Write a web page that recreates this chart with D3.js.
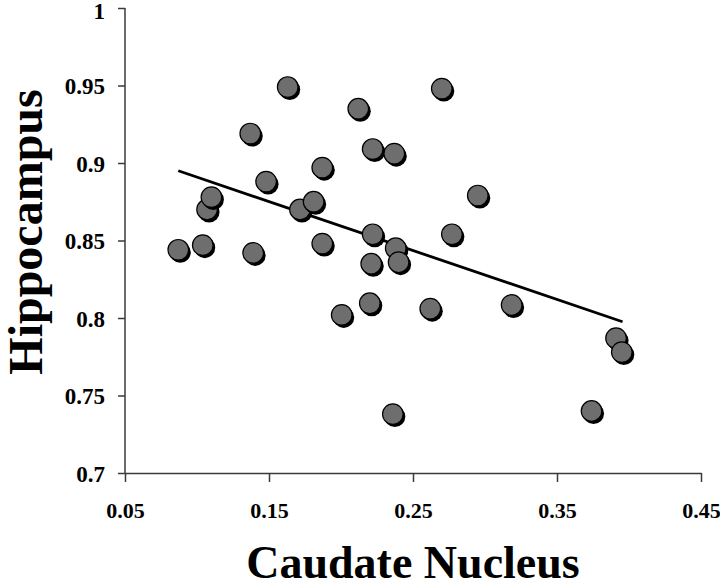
<!DOCTYPE html>
<html lang="en">
<head>
  <meta charset="utf-8">
  <title>Caudate Nucleus vs Hippocampus</title>
  <script src="https://d3js.org/d3.v7.min.js"></script>
  <style>
    body { margin: 0; background: #fff; }
    #chart text { font-family: "Liberation Serif", "Times New Roman", serif; font-weight: bold; fill: #000; }
    .axis path, .axis line { stroke: #3a3a3a; stroke-width: 1.5; }
  </style>
</head>
<body>
  <div id="chart"></div>

  <script>
    "use strict";

    // caudate (x) and hippocampus (y) values
    var caudate = [0.087, 0.104, 0.107, 0.110, 0.137, 0.139, 0.148, 0.163, 0.1715, 0.181,
                   0.187, 0.187, 0.2005, 0.212, 0.220, 0.221, 0.222, 0.222, 0.236, 0.237,
                   0.238, 0.240, 0.262, 0.270, 0.277, 0.295, 0.3185, 0.374, 0.391, 0.395];
    var hippocampus = [0.844, 0.847, 0.870, 0.878, 0.919, 0.842, 0.888, 0.949, 0.870, 0.875,
                       0.897, 0.848, 0.802, 0.935, 0.8095, 0.835, 0.854, 0.909, 0.738, 0.906,
                       0.845, 0.836, 0.806, 0.948, 0.854, 0.879, 0.8084, 0.740, 0.787, 0.778];

    // fitted line end points
    var trendX = [0.087, 0.3955];
    var trendY = [0.895, 0.7976];

    var xTicks = [0.05, 0.15, 0.25, 0.35, 0.45];
    var yTicks = [0.7, 0.75, 0.8, 0.85, 0.9, 0.95, 1];

    var largura = 720, altura = 587;
    var margin = {top: 8, right: 19, bottom: 114, left: 125};

    var svg = d3.select('#chart').append('svg')
        .attr('width', largura)
        .attr('height', altura);

    var x = d3.scaleLinear().domain([0.05, 0.45]).range([margin.left, largura - margin.right]);
    var y = d3.scaleLinear().domain([0.7, 1]).range([altura - margin.bottom, margin.top]);

    // eixo x
    var gx = svg.append('g')
        .attr('class', 'axis')
        .attr('transform', 'translate(0,' + y(0.7) + ')')
        .call(d3.axisBottom(x).tickValues(xTicks).tickSize(9).tickSizeOuter(0)
          .tickFormat(d => d3.format('.2f')(d)));
    gx.selectAll('text').attr('font-size', 22).attr('dy', '1.5em');

    // eixo y
    var gy = svg.append('g')
        .attr('class', 'axis')
        .attr('transform', 'translate(' + x(0.05) + ',0)')
        .call(d3.axisLeft(y).tickValues(yTicks).tickSize(7).tickSizeOuter(0)
          .tickFormat(d => d === 1 ? '1' : d3.format('.2~f')(d)));
    gy.selectAll('text').attr('font-size', 23).attr('x', -20)
        .attr('dy', d => d === 1 ? '0.45em' : '0.36em');
    gy.select('.domain').attr('d', 'M0,' + y(0.7) + 'V' + y(1));

    // linha de tendencia
    var linha = d3.line().x(d => x(d[0])).y(d => y(d[1]));
    svg.append('path')
        .datum(d3.zip(trendX, trendY))
        .attr('d', linha)
        .attr('fill', 'none')
        .attr('stroke', '#000')
        .attr('stroke-width', 2.8);

    // pontos com sombra
    var dados = d3.zip(caudate, hippocampus);
    var pts = svg.selectAll('g.pt')
        .data(dados)
        .enter().append('g')
        .attr('class', 'pt')
        .attr('transform', d => 'translate(' + x(d[0]) + ',' + y(d[1]) + ')');
    pts.append('circle')
        .attr('cx', 2).attr('cy', 2.5).attr('r', 10.5)
        .attr('fill', '#000');
    pts.append('circle')
        .attr('r', 10.3)
        .attr('fill', '#6e6e6e')
        .attr('stroke', '#000')
        .attr('stroke-width', 1.2);

    // titulos
    svg.append('text')
        .attr('x', (x(0.05) + x(0.45)) / 2)
        .attr('y', 578)
        .attr('text-anchor', 'middle')
        .attr('font-size', 46)
        .text('Caudate Nucleus');

    svg.append('text')
        .attr('transform', 'translate(42,' + 232 + ') rotate(-90)')
        .attr('text-anchor', 'middle')
        .attr('font-size', 48)
        .text('Hippocampus');
  </script>
</body>
</html>
